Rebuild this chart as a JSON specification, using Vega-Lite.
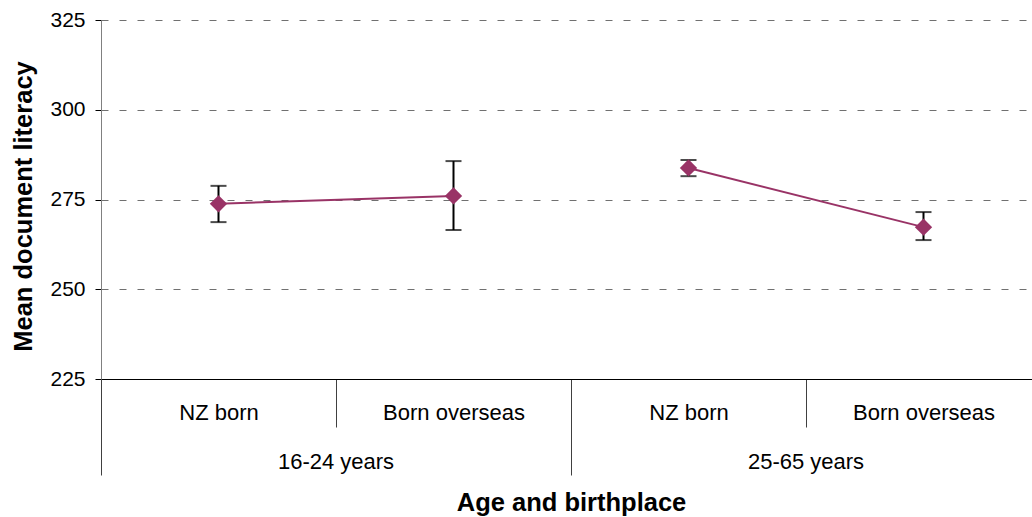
{
  "$schema": "https://vega.github.io/schema/vega-lite/v6.json",
  "autosize": {"type": "none"},
  "width": 931,
  "height": 359,
  "padding": {"left": 101, "top": 20, "right": 0, "bottom": 138},
  "background": "white",
  "config": {
    "font": "Liberation Sans",
    "view": {"stroke": null},
    "axis": {"labelFont": "Liberation Sans", "titleFont": "Liberation Sans"}
  },
  "data": {
    "values": [
      {"group": "16-24 years", "place": "NZ born", "cat": "16-24 years|NZ born", "mean": 273.8, "lo": 268.7, "hi": 278.8},
      {"group": "16-24 years", "place": "Born overseas", "cat": "16-24 years|Born overseas", "mean": 276.0, "lo": 266.5, "hi": 285.7},
      {"group": "25-65 years", "place": "NZ born", "cat": "25-65 years|NZ born", "mean": 283.8, "lo": 281.5, "hi": 286.0},
      {"group": "25-65 years", "place": "Born overseas", "cat": "25-65 years|Born overseas", "mean": 267.3, "lo": 263.7, "hi": 271.5}
    ]
  },
  "layer": [
    {
      "encoding": {
        "x": {
          "field": "cat",
          "type": "nominal",
          "sort": null,
          "scale": {"type": "band", "range": [0, 940], "paddingInner": 0, "paddingOuter": 0},
          "axis": {
            "orient": "bottom",
            "title": null,
            "domainColor": "black",
            "domainWidth": 1,
            "tickBand": "extent",
            "tickColor": "#404040",
            "tickWidth": 1,
            "tickSize": {"condition": {"test": "isString(datum.value) && indexof(datum.value, 'NZ born') >= 0", "value": 48}, "value": 96},
            "labelPadding": {"condition": {"test": "isString(datum.value) && indexof(datum.value, 'NZ born') >= 0", "value": -15}, "value": -63},
            "labelExpr": "isString(datum.value) ? split(datum.value, '|')[1] : ''",
            "labelAngle": 0,
            "labelFontSize": 22,
            "labelColor": "black",
            "labelBaseline": "middle"
          }
        },
        "y": {
          "field": "mean",
          "type": "quantitative",
          "scale": {"domain": [225, 325], "nice": false, "zero": false},
          "axis": {
            "title": "Mean document literacy",
            "titleFontSize": 25.5,
            "titleFontWeight": "bold",
            "titleColor": "black",
            "titlePadding": 13,
            "titleY": 186,
            "values": [225, 250, 275, 300, 325],
            "labelFontSize": 21,
            "labelColor": "black",
            "labelPadding": 10,
            "tickSize": 6,
            "tickColor": "black",
            "domainColor": "#808080",
            "gridDash": [7, 11],
            "gridColor": "#707070",
            "gridOpacity": {"condition": {"test": "datum.value == 225", "value": 0}, "value": 1}
          }
        }
      },
      "layer": [
        {
          "mark": {"type": "rule", "color": "black", "strokeWidth": 2},
          "encoding": {
            "y": {"field": "lo", "type": "quantitative"},
            "y2": {"field": "hi"}
          }
        },
        {
          "mark": {"type": "tick", "color": "black", "thickness": 2, "size": 16, "orient": "horizontal"},
          "encoding": {"y": {"field": "lo", "type": "quantitative"}}
        },
        {
          "mark": {"type": "tick", "color": "black", "thickness": 2, "size": 16, "orient": "horizontal"},
          "encoding": {"y": {"field": "hi", "type": "quantitative"}}
        },
        {
          "mark": {"type": "line", "color": "#993366", "strokeWidth": 2},
          "encoding": {"detail": {"field": "group"}}
        },
        {
          "mark": {"type": "point", "shape": "diamond", "filled": true, "color": "#993366", "size": 300, "opacity": 1}
        }
      ]
    },
    {
      "mark": {"type": "point", "opacity": 0},
      "encoding": {
        "x": {
          "field": "group",
          "type": "nominal",
          "sort": null,
          "scale": {"type": "band", "range": [0, 940], "paddingInner": 0, "paddingOuter": 0},
          "axis": {
            "orient": "bottom",
            "title": "Age and birthplace",
            "titleFontSize": 25.5,
            "titleFontWeight": "bold",
            "titleColor": "black",
            "titlePadding": 18,
            "ticks": false,
            "domain": false,
            "labelAngle": 0,
            "labelFontSize": 22,
            "labelColor": "black",
            "labelBaseline": "middle",
            "labelPadding": 82
          }
        },
        "y": {"field": "mean", "type": "quantitative"}
      }
    }
  ],
  "resolve": {"scale": {"x": "independent"}, "axis": {"x": "independent"}}
}
